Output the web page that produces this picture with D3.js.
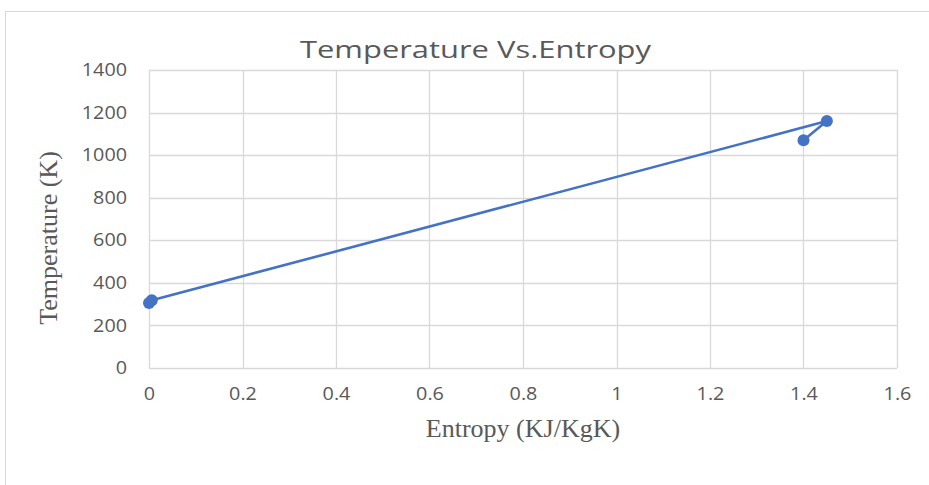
<!DOCTYPE html>
<html>
<head>
<meta charset="utf-8">
<script src="https://cdn.jsdelivr.net/npm/d3@7"></script>
<style>
  body { margin: 0; background: #fff; }
  svg { display: block; }
</style>
</head>
<body>
<div id="chart"></div>
<script>
// Cycle points
const entropy = [0, 0.006, 1.45, 1.40];
const temperature = [305, 318, 1160, 1070];
const xTicks = [0, 0.2, 0.4, 0.6, 0.8, 1, 1.2, 1.4, 1.6];
const yTicks = [0, 200, 400, 600, 800, 1000, 1200, 1400];

const W = 929, H = 485;
const plot = { left: 149, right: 897, top: 70, bottom: 368 };
const grid = '#d9d9d9', text = '#595959', blue = '#4472C4';

const svg = d3.select('#chart').append('svg')
    .attr('width', W)
    .attr('height', H);

// chart frame
svg.append('rect')
    .attr('x', 5.5).attr('y', 11.5)
    .attr('width', W + 10).attr('height', H + 10)
    .attr('fill', '#fff')
    .attr('stroke', grid);

const x = d3.scaleLinear().domain([0, 1.6]).range([plot.left, plot.right]);
const y = d3.scaleLinear().domain([0, 1400]).range([plot.bottom, plot.top]);

// gridlines
svg.append('g').selectAll('line.h').data(yTicks).join('line')
    .attr('x1', plot.left).attr('x2', plot.right)
    .attr('y1', d => Math.round(y(d)) + 0.5).attr('y2', d => Math.round(y(d)) + 0.5)
    .attr('stroke', grid).attr('stroke-width', 1.3);
svg.append('g').selectAll('line.v').data(xTicks).join('line')
    .attr('y1', plot.top).attr('y2', plot.bottom)
    .attr('x1', d => Math.round(x(d)) + 0.5).attr('x2', d => Math.round(x(d)) + 0.5)
    .attr('stroke', grid).attr('stroke-width', 1.3);

// the source text is a bit wider than the local fonts, stretch it
function stretch(sel, k) {
    sel.each(function () {
        const w = this.getComputedTextLength();
        d3.select(this).attr('textLength', w * k).attr('lengthAdjust', 'spacingAndGlyphs');
    });
}

// axes (labels only, Excel style)
const xAxis = svg.append('g')
    .attr('transform', `translate(0,${plot.bottom})`)
    .call(d3.axisBottom(x).tickValues(xTicks).tickSize(0).tickPadding(20).tickFormat(d3.format('')));
const yAxis = svg.append('g')
    .attr('transform', `translate(${plot.left},0)`)
    .call(d3.axisLeft(y).tickValues(yTicks).tickSize(0).tickPadding(22).tickFormat(d3.format('')));
[xAxis, yAxis].forEach(a => {
    a.select('.domain').remove();
    a.selectAll('text')
        .attr('fill', text)
        .style('font-family', '"Open Sans", "Noto Sans", sans-serif')
        .style('font-size', '17.5px')
        .call(stretch, 1.13);
});

// series
const pts = entropy.map((s, i) => ({ s, t: temperature[i] }));
svg.append('path')
    .datum(pts)
    .attr('fill', 'none')
    .attr('stroke', blue)
    .attr('stroke-width', 2.6)
    .attr('stroke-linejoin', 'round')
    .attr('d', d3.line().x(d => x(d.s)).y(d => y(d.t)));
svg.append('g').selectAll('circle').data(pts).join('circle')
    .attr('cx', d => x(d.s))
    .attr('cy', d => y(d.t))
    .attr('r', 6)
    .attr('fill', blue);

// titles
svg.append('text')
    .attr('x', 300).attr('y', 58)
    .attr('fill', text)
    .attr('textLength', 351)
    .attr('lengthAdjust', 'spacingAndGlyphs')
    .style('font-family', '"Open Sans", "Noto Sans", sans-serif')
    .style('font-size', '24px')
    .text('Temperature Vs.Entropy');

svg.append('text')
    .attr('x', 523).attr('y', 437)
    .attr('text-anchor', 'middle')
    .attr('fill', text)
    .style('font-family', '"Liberation Serif", serif')
    .style('font-size', '26px')
    .text('Entropy (KJ/KgK)');

svg.append('text')
    .attr('transform', 'translate(57,238) rotate(-90)')
    .attr('text-anchor', 'middle')
    .attr('fill', text)
    .style('font-family', '"Liberation Serif", serif')
    .style('font-size', '26px')
    .text('Temperature (K)');
</script>
</body>
</html>
